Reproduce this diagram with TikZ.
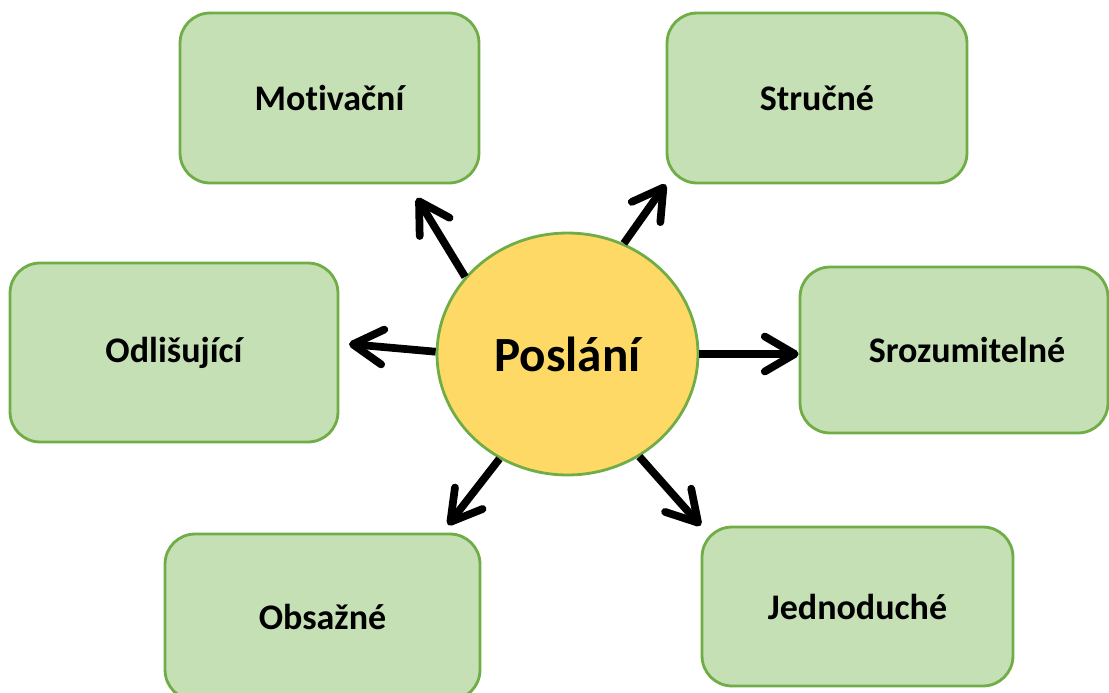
\documentclass[tikz,border=0pt]{standalone}
\usepackage{fontspec}
\setmainfont{Carlito}[Ligatures=NoCommon]
\usetikzlibrary{shapes.geometric, arrows.meta, calc}
\definecolor{boxgreen}{HTML}{C5E0B4}
\definecolor{linegreen}{HTML}{70AD47}
\definecolor{circyellow}{HTML}{FFD966}
\tikzset{
    vlastnost/.style={draw=linegreen, fill=boxgreen, line width=1.6pt, rounded corners=0.6cm, inner sep=0pt, font=\fontsize{20.5}{24}\selectfont\bfseries},
    sipka/.style={line width=4.4pt, -{Straight Barb[length=6mm, width=7mm, line cap=round, line join=round]}}
}

\begin{document}
\begin{tikzpicture}[x=0.02cm, y=-0.02cm]
        \useasboundingbox (0,0) rectangle (1109,693);
        %kruh uprostred
        \node[ellipse, draw=linegreen, fill=circyellow, line width=1.6pt, minimum width=5.22cm, minimum height=4.84cm, inner sep=0pt, font=\fontsize{28}{32}\selectfont\bfseries] (poslani) at (567.5,354) {Poslání};
        %zelene boxy
        \node[vlastnost, minimum width=5.98cm, minimum height=3.4cm] (motivacni) at (329.5,98) {Motivační};
        \node[vlastnost, minimum width=6.0cm, minimum height=3.4cm] (strucne) at (817,98) {Stručné};
        \node[vlastnost, minimum width=6.56cm, minimum height=3.58cm] (odlisujici) at (174,352.5) {Odlišující};
        \node[vlastnost, minimum width=6.16cm, minimum height=3.32cm] (sroz) at (954,350) {\hspace*{0.52cm}Srozumitelné};
        \node[vlastnost, minimum width=6.3cm, minimum height=3.32cm] (obsazne) at (322.5,617) {Obsažné};
        \node[vlastnost, minimum width=6.22cm, minimum height=3.18cm] (jedno) at (857.5,606.5) {Jednoduché};
        %hroty sipek
        \coordinate (hrotM) at (417,198);
        \coordinate (hrotO) at (349,344);
        \coordinate (hrotB) at (448,525);
        %sipky
        \draw[sipka] (poslani.143) -- (hrotM);
        \draw[sipka] (poslani.63) -- (strucne.south west);
        \draw[sipka] (poslani.179) -- (hrotO);
        \draw[sipka] (poslani.east) -- (poslani.east -| sroz.west);
        \draw[sipka] (poslani.237) -- (hrotB);
        \draw[sipka] (poslani.305) -- (jedno.north west);
\end{tikzpicture}
\end{document}
